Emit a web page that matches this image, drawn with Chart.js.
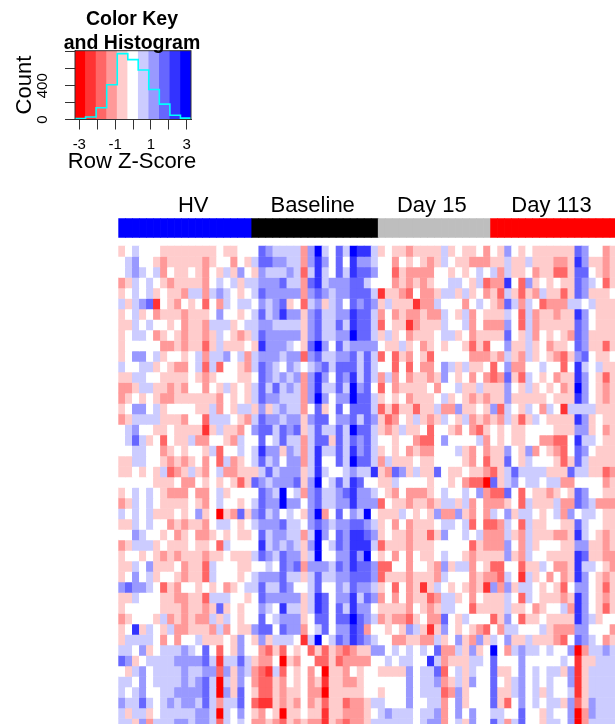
<!DOCTYPE html>
<html>
<head>
<meta charset="utf-8">
<style>
html,body{margin:0;padding:0;background:#fff;overflow:hidden}
canvas{position:absolute;left:0}
#key{top:0}
#heat{top:190px}
</style>
<script src="https://cdn.jsdelivr.net/npm/chart.js@4"></script>
</head>
<body>
<canvas id="key" width="210" height="185"></canvas>
<canvas id="heat" width="617" height="534"></canvas>
<script>
// Colour key
const keyColors = ['#FF0000','#FF3333','#FF6666','#FF9999','#FFCCCC','#FFFFFF','#CCCCFF','#9999FF','#6666FF','#3333FF','#0000FF'];
const keyBreaks = [-3.24,-2.65,-2.06,-1.47,-0.88,-0.29,0.29,0.88,1.47,2.06,2.65,3.24];
const histCounts = [10,30,139,412,780,709,586,356,182,51,16];
const keyTicks = [-3,-2,-1,0,1,2,3];
const keyTickLabels = [-3,-1,1,3];
const countTicks = [0,200,400,600,800];
const countTickLabels = [0,400];

// Column annotation
const groupNames = ['HV','Baseline','Day 15','Day 113'];
const groupSizes = [19,18,16,18];
const groupColors = ['#0000FF','#000000','#BEBEBE','#FF0000'];
const groupLabelColumns = [10.67,27.67,44.63,61.67];

// Binned row z-scores: e d c b a = -5..-1 (reds), . = 0, A B C D E = +1..+5 (blues)
const rowLevels = [
"a.A...aaaaaaaa.aa...CBAAAAbBEA.CAEDDAa.aabaaaaAa.aa.b.aB.a.aaaaaaCB..ba",
".AB..abaaaaaba..b.aACCBBAAbBDB.C.DBBA..b.a.abaA.aabbbaaAaaAaaabbaDBaaba",
".ABA.Ab.aa.ab.aAaB.aBAAABAcADA.CADCCB..cabbbb..a.a.A.AbAaa.baaccaCC.aba",
"baA.A.abaaaab.A.AaAABBBCAAbCDABBBCCA...bababa..AA.aAcbbD.cBa.a.aaCBA.ca",
"a.A.Aa.aabAAbABA.a.ACBBBBBbBCBABBCCCAdaabc.bbaAAaAa.bacAacabAaacaCBaaa.",
"AaABCd.ab.a.c.bA.AA.BABCa.cABaAB.CBCBaAaaadbbA...b.A.abCAbA.cbbbAA.Aaaa",
"a.Aa.baaabaaa.B..a.ACABDBBaBCAABBDCCAb.babbabbA.aAb.aaaA.cAbaabaaDB.aaa",
"aaA.A..a.baabAAAa.AABBAAAAaBCAACADCCAc.aadbaaaA..Ab.bbbB.cAbaaaaaCB.aaa",
"a.AA.ba.abaabaA.abaACBBBBBaBCAABBECCAaAa.baaa.AAa.baaaaC.aAb.a.abCBaaaa",
"a.....bbabaacaAaaa.aDBBBA.aCEB.CABBBB.aaAa.ba.a..acac..BaaAa.baa.CBaaca",
"a.BB.Aa..a.AbAAB.AbABBBABBcBCAABBCACAc.cab.ac.....bbbabAabAa.abcaBC.aa.",
"A..AAa.abb.AcAc..abACBA.BA.ABCACCCACA..c.c.bb.BAaAaa.c.Bbb..A..c.DA.Aaa",
"aaAA..aaaa.aba...aa.CBABABbBDB.CBDACAbAb.baabaB.a.b.bcbCacA.a.baaDB.aca",
"bbaAAaabab..b.aAa.aACACABAbBDAACAEBC.c.baaaa.b..AaaAaaaB.aAa.a.baEB.aba",
"ba.a.abbaaaaaab.a.aACBBAAAbBEB.BBECCAa.a.baaa.Aa.ababaaBaaaaa.aaaDB.aba",
"a.BB.Aa....aaAb.aAAaBaABAAb.Ca.C.CCCAcacaacaaAbbBaa.aBcA.aA.bA.dAAAAaaa",
"baAAAAaaab..cAAA.abACBBABBaBCC.BBCACBacb.aAabaA.aAbababAacaA.aaaaDBa.aa",
".AB..aa.aaaadaAaab.BCCACBCaACAACAECCAabaAaa.c..ab.bca.a.aa....aaaBBa.ba",
".ACAa.c.aaAbb..abA..C.ACAAbACCaCACBCA..a..bcc.B....Ab.a.aa..bbcc.DAA.aa",
"..AA..ba.a..aAc..A.ADBBaBAbADAACADBCAa.a.babb...Aab.baaB.aBb.abc.CB.aaa",
"aaAA..ababa.b.cAba.ACAB.BBbAD..CAECCAbAaaa.aa....ab.caaC.aA...acaCAaaaa",
"aa.a.aAcbaAab.AbbaaaACABBBaADA..ABAADabCBaAaaC.aa.aabcaACAAAAaaaCAAaacb",
".....aaa.bb.a.a.acaCBABBBCaBE.ACADC..aaA....a..a.bcceCaAB.AA.AAbb....ba",
"a.A.A.abbb.bb.Aa....CBAE.AbBCAABCDBBA.ab.bbba.A..A.BbccC.c.aaba.aCB..aa",
"baA.A.aaaa.ab.A..a.ACBBEBB.BCAABBDBBBc.aabaabaAAaAb.bbba.cAaaaAbbCBAbbb",
"A.A.Aaaa.a.Ba.eabCaBCAB.A.aBEb.C.BAE.aaaA.a.aBbbBab.bA.BaAA.a.AbB.AA.aa",
"aaA.A..babaab.AA.a.ABBBCAA.BCBABBCCBAa.b.baaa.AA.Ac.ccbA.cAaa..aaCA..aa",
"..BA..a.ba.bba.a.aa.CABBAAbAEB.CBDDCBa.aabaacaB..A.AbbbAabAaaabbaDA.aba",
"baAAAa.aaa.aa.cA....DABABAaBE.ACBDDDAcaaabaaa.....cabbbB.bAa...aaBBaaba",
"a..a.ababaaabaa.aaaACBACBBaAE..BBDBE.a.b.b.aa.A..abaaaaBabA..aaaaDCaabb",
"aaA.Baaa.baacA...aa..A.CBCbBBBACBDCCBcc..b..abBaAAb.acc..caaA.bbaDAA.ab",
"a.B.Aa..abaacA...a.ABBBCAAaACAABBCCCBcaaabaaabA...babbcA.dAa.b.baDB.aba",
"BCBBA.cab..a.a.ba.AACAACB..AC..BACBBAa.c.badaA.a.abadBbBaAA.a.ac.BB.aca",
"aaA...aabbaacAAA..a.CBBBBBaADC.BBDACBb.b.baacbAAa.b.aaaA.cA.aaabaDB.aba",
"a.....aaabaabaCa.a..BA.DAAaADC.CADBB.aaaab.abaAA..caaaaAaa.ba..AbDB.aca",
"ba...aAbababbAaA.a..C.ABBBa.CC.CCECBAbabbca.bbC.aA...caB.caa.aaaaDBAa..",
"a.DaA.aAbbaaabAb.aaBCC.CBBb.AC.BBDCb..a.aBAadaB.a.abc.bAA...AabbbBB...b",
"aAAAA.b.b..Aaaa.aB.aBaAAA.dAE.ACBDCBA..bbaabbAa.BabBaA.BaaAaaabc.CBA.ba",
"AA.Ba.AAABA.C.c.aB..bcac.a.cacabcbaaBB.A.A.A.CbbAaBa.E.bABAA.A..BebAABA",
"CBa.AAAABBBBCAdAACAabb.eab..ccacbbbb..A.AA..DAbaaaAA.C...B.....A.daaAAA",
".aAB.AAAABAABBcBaBAbcdAc.a.b.eaab.a..aaaaB.AACc.AaA..Caa.B.A.AAaBdaAAAA",
"AA.B.AAAABABCAeAaB.bccab.a.badaabba......B.AABbaAaB..C.aAB.A.A..BdaAAAA",
"A.AB..AABBBBCAeBaC.accabaa.bbeaaaaa..a...B.AAAcbBa...CaaAB.AaA..AdaAAAA",
"BAACA.ABABBACAbAAC.cddabab.bacaacbbaAA...B..AAb.Ba...Cac.B.A.AAaBcaBAAA",
"AaAAa.AAAAABBAeA.B.ab.aeaa.aadaabbba.ABAAA.AABb.B.B..AA..C..aA..BebBAAA",
"AAaBbAAABBABBAcA.A.bbabcababbdabcbbaAAAAAA.ABBb.AaB..CAbAC..aAA.BebAAAA"
];
const levelCodes = 'edcba.ABCDE';

const font = 'Liberation Sans';
const colNames = rowLevels[0].split('').map((_, i) => 'c' + (i + 1));
const annotationColors = groupSizes.flatMap((n, i) => Array(n).fill(groupColors[i]));
const annotationTop = -2.64, annotationBottom = -0.83;

const heatSets = rowLevels.map((row, r) => ({
  data: row.split('').map(() => [r, r + 1]),
  backgroundColor: row.split('').map(c => keyColors[levelCodes.indexOf(c)]),
  borderWidth: 0
}));
heatSets.push({
  data: annotationColors.map(() => [annotationTop, annotationBottom]),
  backgroundColor: annotationColors,
  borderWidth: 0
});

new Chart(document.getElementById('heat'), {
  type: 'bar',
  data: {labels: colNames, datasets: heatSets},
  options: {
    responsive: false, animation: false, devicePixelRatio: 1,
    layout: {padding: {left: 118.3, right: 0, top: 0, bottom: 0}},
    datasets: {bar: {grouped: false, barPercentage: 1, categoryPercentage: 1}},
    plugins: {legend: {display: false}, tooltip: {enabled: false}, title: {display: false}},
    scales: {
      x: {display: false},
      y: {display: false, reverse: true, min: annotationTop, max: 45.52},
      top: {
        type: 'linear', position: 'top', min: 0, max: rowLevels[0].length, offset: false,
        grid: {display: false, drawTicks: false, offset: false}, border: {display: false},
        afterBuildTicks: a => { a.ticks = groupLabelColumns.map(v => ({value: v})); },
        afterFit: a => { a.height = 28.3; },
        ticks: {
          autoSkip: false, maxRotation: 0, padding: -1, color: '#000',
          font: {family: font, size: 22},
          callback: (v, i) => groupNames[i]
        }
      }
    }
  }
});

const keyTitle = {
  id: 'keyTitle',
  afterDraw(chart) {
    const {ctx, chartArea: a} = chart;
    ctx.save();
    ctx.strokeStyle = '#333';
    ctx.lineWidth = 1;
    ctx.strokeRect(a.left, a.top, a.right - a.left, a.bottom - a.top);
    ctx.fillStyle = '#000';
    ctx.textAlign = 'center';
    ctx.textBaseline = 'middle';
    ctx.font = 'bold 19.5px "' + font + '"';
    ctx.fillText('Color Key', 132, 20);
    ctx.fillText('and Histogram', 132, 44);
    ctx.font = '22px "' + font + '"';
    ctx.fillText('Row Z-Score', 132, 162);
    ctx.restore();
  }
};

const countTop = 815;
new Chart(document.getElementById('key'), {
  type: 'bar',
  plugins: [keyTitle],
  data: {
    labels: keyColors.map((_, i) => 'b' + i),
    datasets: [
      {type: 'line', order: 0, xAxisID: 'x', yAxisID: 'y', stepped: true, borderColor: '#00FFFF', borderWidth: 1.6, pointRadius: 0,
       data: keyBreaks.map((b, i) => ({x: b, y: histCounts[Math.min(i, histCounts.length - 1)]}))},
      {type: 'bar', order: 1, xAxisID: 'bins', yAxisID: 'y', grouped: false, barPercentage: 1, categoryPercentage: 1, borderWidth: 0,
       backgroundColor: keyColors, data: keyColors.map(() => countTop)}
    ]
  },
  options: {
    responsive: false, animation: false, devicePixelRatio: 1,
    layout: {padding: {left: 0, right: 19, top: 50.7, bottom: 0}},
    plugins: {legend: {display: false}, tooltip: {enabled: false}, title: {display: false}},
    scales: {
      bins: {display: false, type: 'category', position: 'bottom', offset: true},
      x: {
        type: 'linear', position: 'bottom', min: -3.24, max: 3.24, offset: false,
        grid: {drawOnChartArea: false, tickLength: 10, tickColor: '#333', offset: false}, border: {color: '#333'},
        afterBuildTicks: a => { a.ticks = keyTicks.map(v => ({value: v})); },
        afterFit: a => { a.height = 65.5; },
        ticks: {
          autoSkip: false, maxRotation: 0, padding: 6, color: '#000',
          font: {family: font, size: 15},
          callback: v => keyTickLabels.includes(v) ? String(v) : ''
        }
      },
      y: {
        type: 'linear', position: 'left', min: 0, max: countTop,
        grid: {drawOnChartArea: false, tickLength: 10, tickColor: '#333'}, border: {color: '#333'},
        afterBuildTicks: a => { a.ticks = countTicks.map(v => ({value: v})); },
        afterFit: a => { a.width = 75; },
        ticks: {
          autoSkip: false, minRotation: 90, maxRotation: 90, crossAlign: 'center', padding: 10, color: '#000',
          font: {family: font, size: 15},
          callback: v => countTickLabels.includes(v) ? String(v) : ''
        },
        title: {display: true, text: 'Count', color: '#000', font: {family: font, size: 22}, padding: {top: 12, bottom: 0}}
      }
    }
  }
});
</script>
</body>
</html>
